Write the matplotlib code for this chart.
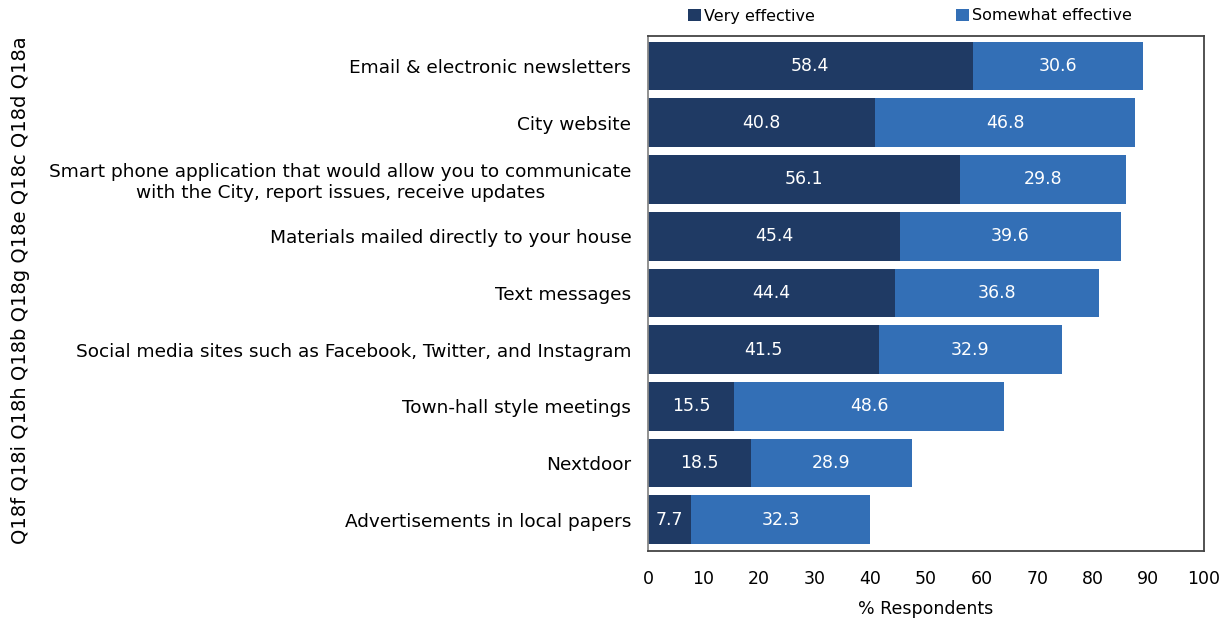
import matplotlib
matplotlib.use("Agg")
import matplotlib.pyplot as plt
import numpy as np

categories = [
    "Email & electronic newsletters",
    "City website",
    "Smart phone application that would allow you to communicate\nwith the City, report issues, receive updates",
    "Materials mailed directly to your house",
    "Text messages",
    "Social media sites such as Facebook, Twitter, and Instagram",
    "Town-hall style meetings",
    "Nextdoor",
    "Advertisements in local papers",
]
very_effective = [58.4, 40.8, 56.1, 45.4, 44.4, 41.5, 15.5, 18.5, 7.7]
somewhat_effective = [30.6, 46.8, 29.8, 39.6, 36.8, 32.9, 48.6, 28.9, 32.3]
series_names = ["Very effective", "Somewhat effective"]
question_codes = ["Q18f", "Q18i", "Q18h", "Q18b", "Q18g", "Q18e", "Q18c", "Q18d", "Q18a"]
x_ticks = list(range(0, 101, 10))

dark = "#1f3a64"
light = "#336fb6"

plt.rcParams["font.family"] = "DejaVu Sans"

fig = plt.figure(figsize=(12.27, 6.21), dpi=100)
ax = fig.add_axes([648 / 1227, 1 - 551 / 621, 556 / 1227, 515 / 621])

y = np.arange(len(categories))
h = 0.86
b1 = ax.barh(y, very_effective, height=h, color=dark, label=series_names[0])
b2 = ax.barh(y, somewhat_effective, left=very_effective, height=h, color=light,
             label=series_names[1])

for bars in (b1, b2):
    for rect in bars:
        w = rect.get_width()
        ax.text(rect.get_x() + w / 2, rect.get_y() + rect.get_height() / 2, f"{w:.1f}",
                ha="center", va="center", color="white", fontsize=12.5)

ax.set_xlim(0, 100)
ax.set_ylim(8.55, -0.53)
ax.set_xticks(x_ticks)
ax.set_yticks(y)
ax.set_yticklabels(categories, fontsize=13.3, multialignment="center")
ax.tick_params(axis="both", length=0)
ax.tick_params(axis="x", pad=14, labelsize=12.5)
ax.tick_params(axis="y", pad=12)
ax.set_xlabel("% Respondents", fontsize=12.5, labelpad=8)

for side in ax.spines.values():
    side.set_color("#444444")
    side.set_linewidth(1.3)
ax.spines["left"].set_color("#888888")

fig.text(0.017, (621 - 290) / 621, " ".join(question_codes), rotation=90,
         ha="center", va="center", fontsize=14)

fig.legend(handles=[b1, b2], labels=series_names, loc="center",
           bbox_to_anchor=(910 / 1227, 1 - 16 / 621), ncol=2, frameon=False,
           fontsize=11.5, handlelength=0.8, handleheight=0.8, handletextpad=0.2,
           columnspacing=8.8)

fig.savefig("out.png", dpi=100)
